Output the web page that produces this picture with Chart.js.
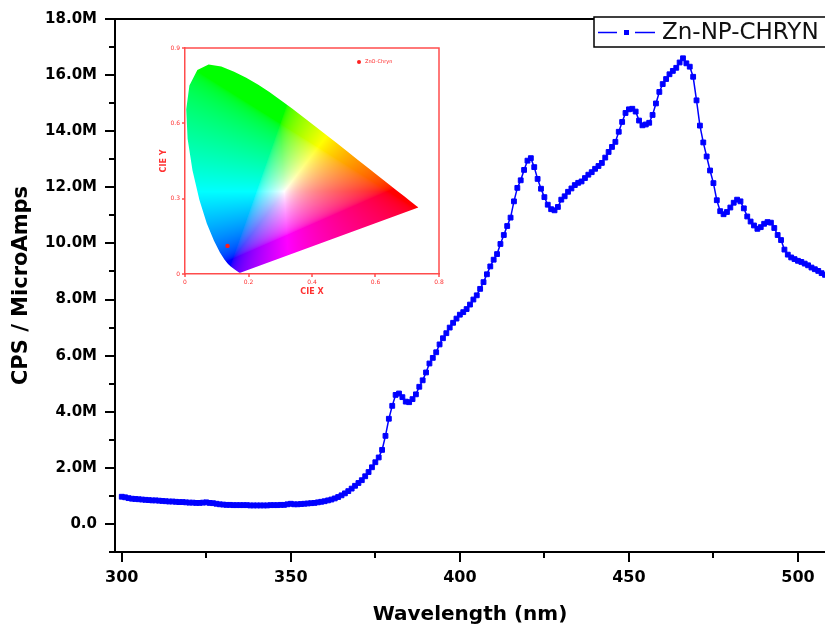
<!DOCTYPE html>
<html>
<head>
<meta charset="utf-8">
<script src="https://cdn.jsdelivr.net/npm/chart.js@4.4.1/dist/chart.umd.min.js"></script>
<style>
  html, body { margin: 0; padding: 0; background: #fff; }
  #wrap { position: relative; width: 825px; height: 627px; overflow: hidden; }
  #main { position: absolute; left: 0; top: 0; }
  #inset { position: absolute; left: 150px; top: 30px; }
</style>
</head>
<body>
<div id="wrap">
  <canvas id="main" width="825" height="627"></canvas>
  <canvas id="inset" width="300" height="275"></canvas>
</div>
<script>
// main spectrum, 1 nm steps from 300 nm, values in millions of CPS
const startWavelength = 300
const cpsMillions = [
  0.97, 0.95, 0.92, 0.90, 0.89, 0.88, 0.87, 0.86, 0.85, 0.84,
  0.84, 0.83, 0.82, 0.81, 0.80, 0.80, 0.79, 0.78, 0.78, 0.77,
  0.76, 0.76, 0.75, 0.75, 0.76, 0.77, 0.75, 0.74, 0.72, 0.70,
  0.69, 0.68, 0.68, 0.67, 0.67, 0.67, 0.67, 0.67, 0.66, 0.66,
  0.66, 0.66, 0.66, 0.66, 0.67, 0.67, 0.67, 0.68, 0.68, 0.70,
  0.72, 0.70, 0.70, 0.71, 0.72, 0.73, 0.74, 0.75, 0.77, 0.79,
  0.81, 0.84, 0.87, 0.91, 0.96, 1.02, 1.09, 1.17, 1.26, 1.36,
  1.46, 1.56, 1.70, 1.85, 2.02, 2.20, 2.37, 2.64, 3.14, 3.75,
  4.21, 4.60, 4.65, 4.52, 4.36, 4.34, 4.45, 4.62, 4.89, 5.12,
  5.40, 5.72, 5.92, 6.12, 6.40, 6.62, 6.80, 7.00, 7.17, 7.32,
  7.46, 7.55, 7.66, 7.82, 8.00, 8.15, 8.38, 8.62, 8.90, 9.18,
  9.42, 9.62, 9.98, 10.30, 10.62, 10.92, 11.50, 11.98, 12.25, 12.62,
  12.95, 13.04, 12.72, 12.30, 11.95, 11.65, 11.38, 11.22, 11.18, 11.30,
  11.56, 11.68, 11.84, 11.96, 12.08, 12.16, 12.21, 12.33, 12.45, 12.54,
  12.66, 12.76, 12.87, 13.06, 13.26, 13.44, 13.62, 13.98, 14.33, 14.65,
  14.78, 14.80, 14.70, 14.38, 14.21, 14.24, 14.30, 14.58, 14.99, 15.40,
  15.68, 15.86, 16.03, 16.15, 16.26, 16.45, 16.60, 16.42, 16.30, 15.94,
  15.10, 14.20, 13.60, 13.10, 12.60, 12.15, 11.54, 11.15, 11.04, 11.12,
  11.28, 11.45, 11.56, 11.50, 11.25, 10.96, 10.78, 10.64, 10.52, 10.58,
  10.70, 10.76, 10.74, 10.55, 10.30, 10.12, 9.78, 9.60, 9.50, 9.44,
  9.38, 9.34, 9.28, 9.22, 9.14, 9.08, 9.02, 8.94, 8.88
]
const wavelengths = cpsMillions.map((_, i) => startWavelength + i)
const seriesName = 'Zn-NP-CHRYN'
const xTickValues = [300, 325, 350, 375, 400, 425, 450, 475, 500]
const yTickValues = [-1, 0, 1, 2, 3, 4, 5, 6, 7, 8, 9, 10, 11, 12, 13, 14, 15, 16, 17, 18]

// inset: CIE 1931 spectral locus (380..700 nm) and the sample point
const locusX = [0.1741, 0.1733, 0.1714, 0.1644, 0.1566, 0.1440, 0.1355, 0.1241, 0.1096, 0.0913,
  0.0687, 0.0454, 0.0235, 0.0082, 0.0039, 0.0139, 0.0389, 0.0743, 0.1142, 0.1547,
  0.1929, 0.2296, 0.2658, 0.3016, 0.3373, 0.3731, 0.4087, 0.4441, 0.4788, 0.5125,
  0.5448, 0.5752, 0.6029, 0.6270, 0.6658, 0.6915, 0.7079, 0.7190, 0.7260, 0.7300,
  0.7334, 0.7347]
const locusY = [0.0050, 0.0048, 0.0051, 0.0109, 0.0177, 0.0297, 0.0399, 0.0578, 0.0868, 0.1327,
  0.2007, 0.2950, 0.4127, 0.5384, 0.6548, 0.7502, 0.8120, 0.8338, 0.8262, 0.8059,
  0.7816, 0.7543, 0.7243, 0.6923, 0.6589, 0.6245, 0.5896, 0.5547, 0.5202, 0.4866,
  0.4544, 0.4242, 0.3965, 0.3725, 0.3340, 0.3083, 0.2920, 0.2809, 0.2740, 0.2700,
  0.2666, 0.2653]
const sampleName = 'ZnO-Chryn'
const sampleCIE = [{ x: 0.134, y: 0.112 }]
const insetXTicks = [0, 0.2, 0.4, 0.6, 0.8]
const insetYTicks = [0, 0.3, 0.6, 0.9]

const FONT = 'DejaVu Sans'

const noScalePadding = s => {
  s.paddingLeft = 0
  s.paddingRight = 0
  s.paddingTop = 0
  s.paddingBottom = 0
}

const mainDecor = {
  id: 'mainDecor',
  afterDraw (chart) {
    const { ctx, chartArea: a, scales: { x, y } } = chart
    ctx.save()
    ctx.strokeStyle = '#000'
    ctx.lineWidth = 2
    ctx.beginPath()
    ctx.moveTo(a.left, a.top)
    ctx.lineTo(a.right, a.top)
    xTickValues.forEach(v => {
      const px = Math.round(x.getPixelForValue(v))
      ctx.moveTo(px, a.bottom)
      ctx.lineTo(px, a.bottom + (v % 50 === 0 ? 10 : 6))
    })
    yTickValues.forEach(v => {
      const py = Math.round(y.getPixelForValue(v))
      ctx.moveTo(a.left, py)
      ctx.lineTo(a.left - (v % 2 === 0 ? 10 : 6), py)
    })
    ctx.stroke()

    // legend box, partly outside the picture like the original
    ctx.fillStyle = '#fff'
    ctx.fillRect(594, 17, 240, 30)
    ctx.lineWidth = 1.5
    ctx.strokeRect(594, 17, 240, 30)
    ctx.strokeStyle = '#0000ff'
    ctx.fillStyle = '#0000ff'
    ctx.lineWidth = 1.5
    ctx.beginPath()
    ctx.moveTo(598, 32.5); ctx.lineTo(617, 32.5)
    ctx.moveTo(635, 32.5); ctx.lineTo(655, 32.5)
    ctx.stroke()
    ctx.fillRect(624, 30, 5, 5)
    ctx.fillStyle = '#111'
    ctx.font = '23px "' + FONT + '"'
    ctx.textBaseline = 'middle'
    ctx.fillText(seriesName, 662, 33)
    ctx.restore()
  }
}

new Chart(document.getElementById('main').getContext('2d'), {
  type: 'line',
  data: {
    datasets: [{
      label: seriesName,
      data: wavelengths.map((w, i) => ({ x: w, y: cpsMillions[i] })),
      borderColor: '#0000ff',
      borderWidth: 1.5,
      pointStyle: 'rect',
      pointRadius: 3.4,
      pointBorderWidth: 1,
      pointBackgroundColor: '#0000ff',
      pointBorderColor: '#0000ff',
      tension: 0
    }]
  },
  options: {
    responsive: false,
    animation: false,
    layout: { autoPadding: false, padding: { top: 19, right: 0, bottom: 0, left: 0 } },
    scales: {
      x: {
        type: 'linear',
        min: 298,
        max: 508,
        afterBuildTicks: s => { s.ticks = xTickValues.map(v => ({ value: v })) },
        afterFit: s => { s.height = 75; noScalePadding(s) },
        grid: { display: false, drawTicks: false },
        border: { display: true, color: '#000', width: 2 },
        ticks: {
          autoSkip: false,
          maxRotation: 0,
          padding: 16,
          color: '#000',
          font: { family: FONT, size: 16, weight: 'bold' },
          callback: v => (v % 50 === 0 ? String(v) : '')
        },
        title: {
          display: true,
          text: 'Wavelength (nm)',
          color: '#000',
          font: { family: FONT, size: 20, weight: 'bold' },
          padding: { top: 0, bottom: 0 }
        }
      },
      y: {
        type: 'linear',
        min: -1,
        max: 18,
        afterBuildTicks: s => { s.ticks = yTickValues.map(v => ({ value: v })) },
        afterFit: s => { s.width = 115; noScalePadding(s) },
        grid: { display: false, drawTicks: false },
        border: { display: true, color: '#000', width: 2 },
        ticks: {
          autoSkip: false,
          padding: 18,
          color: '#000',
          font: { family: FONT, size: 15, weight: 'bold' },
          callback: v => (v >= 0 && v % 2 === 0 ? (v === 0 ? '0.0' : v.toFixed(1) + 'M') : '')
        },
        title: {
          display: true,
          text: 'CPS / MicroAmps',
          color: '#000',
          font: { family: FONT, size: 21, weight: 'bold' },
          padding: { top: 9, bottom: 0 }
        }
      }
    },
    plugins: {
      legend: { display: false },
      tooltip: { enabled: false }
    }
  },
  plugins: [mainDecor]
})

// xy chromaticity to a displayable sRGB colour
function chromaToRgb (cx, cy) {
  if (cy <= 0.0005) return [255, 255, 255]
  const X = cx / cy
  const Z = (1 - cx - cy) / cy
  let r = 3.2406 * X - 1.5372 - 0.4986 * Z
  let g = -0.9689 * X + 1.8758 + 0.0415 * Z
  let b = 0.0557 * X - 0.2040 + 1.0570 * Z
  r = Math.max(r, 0); g = Math.max(g, 0); b = Math.max(b, 0)
  const m = Math.max(r, g, b) || 1
  r /= m; g /= m; b /= m
  // push a little away from white so the fan looks like the original
  const lo = Math.min(r, g, b) * 0.35
  return [r, g, b].map(c => {
    c = (c - lo) / (1 - lo)
    c = c <= 0.0031308 ? 12.92 * c : 1.055 * Math.pow(c, 1 / 2.4) - 0.055
    return Math.round(255 * c)
  })
}

const RED = '#ff4d4d'

const horseshoe = {
  id: 'horseshoe',
  beforeDatasetsDraw (chart) {
    const { ctx, chartArea: a, scales: { x, y } } = chart
    const w = Math.ceil(a.right - a.left)
    const h = Math.ceil(a.bottom - a.top)
    const off = document.createElement('canvas')
    off.width = w
    off.height = h
    const octx = off.getContext('2d')
    const img = octx.createImageData(w, h)
    for (let j = 0; j < h; j++) {
      const cy = y.getValueForPixel(a.top + j + 0.5)
      for (let i = 0; i < w; i++) {
        const cx = x.getValueForPixel(a.left + i + 0.5)
        const c = chromaToRgb(cx, cy)
        const k = (j * w + i) * 4
        img.data[k] = c[0]; img.data[k + 1] = c[1]; img.data[k + 2] = c[2]; img.data[k + 3] = 255
      }
    }
    octx.putImageData(img, 0, 0)
    ctx.save()
    ctx.beginPath()
    locusX.forEach((v, i) => {
      const px = x.getPixelForValue(v)
      const py = y.getPixelForValue(locusY[i])
      if (i === 0) ctx.moveTo(px, py)
      else ctx.lineTo(px, py)
    })
    ctx.closePath()
    ctx.clip()
    ctx.drawImage(off, a.left, a.top)
    ctx.restore()
  },
  afterDraw (chart) {
    const { ctx, chartArea: a, scales: { x, y } } = chart
    ctx.save()
    ctx.strokeStyle = RED
    ctx.lineWidth = 1.5
    ctx.beginPath()
    ctx.moveTo(a.left, a.top); ctx.lineTo(a.right, a.top); ctx.lineTo(a.right, a.bottom)
    insetXTicks.forEach(v => {
      const px = Math.round(x.getPixelForValue(v))
      ctx.moveTo(px, a.bottom); ctx.lineTo(px, a.bottom + 3)
    })
    insetYTicks.forEach(v => {
      const py = Math.round(y.getPixelForValue(v))
      ctx.moveTo(a.left, py); ctx.lineTo(a.left - 3, py)
    })
    ctx.stroke()
    // small legend
    ctx.fillStyle = '#ff2020'
    ctx.beginPath()
    ctx.arc(209, 32, 2, 0, Math.PI * 2)
    ctx.fill()
    ctx.font = '5px "' + FONT + '"'
    ctx.textBaseline = 'middle'
    ctx.fillText(sampleName, 215, 32)
    ctx.restore()
  }
}

new Chart(document.getElementById('inset').getContext('2d'), {
  type: 'scatter',
  data: {
    datasets: [{
      label: sampleName,
      data: sampleCIE,
      pointRadius: 2.2,
      pointBorderWidth: 0,
      backgroundColor: '#ff1a1a'
    }]
  },
  options: {
    responsive: false,
    animation: false,
    layout: { autoPadding: false, padding: { top: 18, right: 11, bottom: 0, left: 0 } },
    scales: {
      x: {
        min: 0,
        max: 0.8,
        afterBuildTicks: s => { s.ticks = insetXTicks.map(v => ({ value: v })) },
        afterFit: s => { s.height = 31; noScalePadding(s) },
        grid: { display: false, drawTicks: false },
        border: { display: true, color: RED, width: 1.5 },
        ticks: {
          autoSkip: false,
          maxRotation: 0,
          padding: 5,
          color: '#ff3030',
          font: { family: FONT, size: 6 },
          callback: v => (v === 0 ? '0' : v.toFixed(1))
        },
        title: {
          display: true,
          text: 'CIE X',
          color: '#ff3030',
          font: { family: FONT, size: 8, weight: 'bold' },
          padding: { top: 0, bottom: 8 }
        }
      },
      y: {
        min: 0,
        max: 0.9,
        afterBuildTicks: s => { s.ticks = insetYTicks.map(v => ({ value: v })) },
        afterFit: s => { s.width = 35; noScalePadding(s) },
        grid: { display: false, drawTicks: false },
        border: { display: true, color: RED, width: 1.5 },
        ticks: {
          autoSkip: false,
          padding: 5,
          color: '#ff3030',
          font: { family: FONT, size: 6 },
          callback: v => (v === 0 ? '0' : v.toFixed(1))
        },
        title: {
          display: true,
          text: 'CIE Y',
          color: '#ff3030',
          font: { family: FONT, size: 8, weight: 'bold' },
          padding: { top: 9, bottom: 0 }
        }
      }
    },
    plugins: {
      legend: { display: false },
      tooltip: { enabled: false }
    }
  },
  plugins: [horseshoe]
})
</script>
</body>
</html>
